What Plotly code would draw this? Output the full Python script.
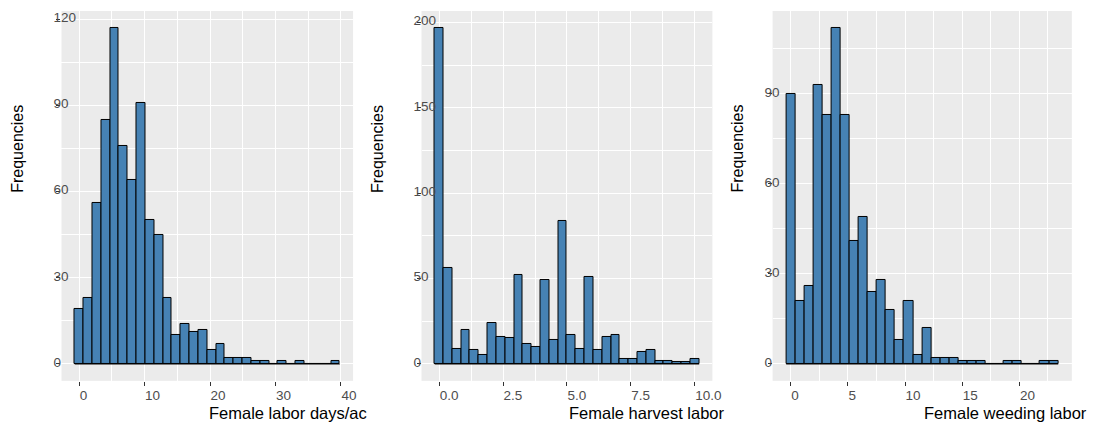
import plotly.graph_objects as go

# ---------------- data ----------------
labor_counts = [19, 23, 56, 85, 117, 76, 64, 91, 50, 45, 23, 10, 14, 11, 12,
                5, 7, 2, 2, 2, 1, 1, 0, 1, 0, 1, 0, 0, 0, 1]
labor_bin_width = 1.35
labor_first_center = 0.0

harvest_counts = [197, 56, 9, 20, 8, 5, 24, 16, 15, 52, 12, 10, 49, 14, 84,
                  17, 9, 51, 8, 16, 17, 3, 3, 7, 8, 2, 2, 1, 1, 3]
harvest_bin_width = 10 / 29
harvest_first_center = 0.0

weeding_counts = [90, 21, 26, 93, 83, 112, 83, 41, 49, 24, 28, 18, 8, 21, 3,
                  12, 2, 2, 2, 1, 1, 1, 0, 0, 1, 1, 0, 0, 1, 1]
weeding_bin_width = 23 / 29
weeding_first_center = 0.0

x_titles = ["Female labor days/ac", "Female harvest labor", "Female weeding labor"]
y_title = "Frequencies"

labor_xticks = [0, 10, 20, 30, 40]
harvest_xticks = [0.0, 2.5, 5.0, 7.5, 10.0]
weeding_xticks = [0, 5, 10, 15, 20]
labor_yticks = [0, 30, 60, 90, 120]
harvest_yticks = [0, 50, 100, 150, 200]
weeding_yticks = [0, 30, 60, 90]

# ---------------- layout geometry ----------------
W, H = 1096, 427
panels_px = [(62, 356), (425, 718.3), (779, 1080.7)]
top_px, bottom_px = 10, 380.7
ydom = [1 - bottom_px / H, 1 - top_px / H]

FONT = "Liberation Sans, Arial, sans-serif"
FILL = "#4682B4"
PANEL_BG = "#EBEBEB"
TICK_COLOR = "#4D4D4D"

specs = [
    (labor_counts, labor_bin_width, labor_first_center, labor_xticks, labor_yticks, None, 5, 15),
    (harvest_counts, harvest_bin_width, harvest_first_center, harvest_xticks, harvest_yticks, ".1f", 1.25, 25),
    (weeding_counts, weeding_bin_width, weeding_first_center, weeding_xticks, weeding_yticks, None, 2.5, 15),
]

fig = go.Figure()
layout = dict(
    width=W, height=H,
    margin=dict(l=0, r=0, t=0, b=0),
    paper_bgcolor="white",
    plot_bgcolor=PANEL_BG,
    showlegend=False,
    bargap=0,
    font=dict(family=FONT, size=13, color=TICK_COLOR),
)
annotations = []

for i, (counts, bw, c0, xt, yt, fmt, xminor, yminor) in enumerate(specs):
    n = len(counts)
    centers = [c0 + k * bw for k in range(n)]
    left_edge = centers[0] - bw / 2
    right_edge = centers[-1] + bw / 2
    span = right_edge - left_edge
    xr = [left_edge - 0.05 * span, right_edge + 0.05 * span]
    ymax = max(counts)
    yr = [-0.05 * ymax, 1.05 * ymax]

    xa = "x" if i == 0 else f"x{i+1}"
    ya = "y" if i == 0 else f"y{i+1}"
    xkey = "xaxis" if i == 0 else f"xaxis{i+1}"
    ykey = "yaxis" if i == 0 else f"yaxis{i+1}"

    fig.add_trace(go.Bar(
        x=centers, y=counts, width=[bw] * n,
        marker=dict(color=FILL, line=dict(color="black", width=1)),
        xaxis=xa, yaxis=ya, hoverinfo="x+y",
    ))
    # zero-height bins are outlined by a baseline in the reference
    fig.add_trace(go.Scatter(
        x=[left_edge, right_edge], y=[0, 0], mode="lines",
        line=dict(color="black", width=1),
        xaxis=xa, yaxis=ya, hoverinfo="skip",
    ))

    x0p, x1p = panels_px[i]
    layout[xkey] = dict(
        domain=[x0p / W, x1p / W], anchor=ya, range=xr,
        tickmode="array", tickvals=xt,
        tickformat=fmt if fmt else None,
        ticks="outside", ticklen=4, tickwidth=1, tickcolor="#333333",
        showline=False, zeroline=False,
        showgrid=True, gridcolor="white", gridwidth=1.1,
        minor=dict(dtick=xminor, tick0=0, showgrid=True, gridcolor="white", gridwidth=0.55, ticks=""),
        ticklabelposition="outside right", ticklabelstandoff=2,
        tickfont=dict(family=FONT, size=13.5, color=TICK_COLOR),
        fixedrange=True,
    )
    layout[ykey] = dict(
        domain=ydom, anchor=xa, range=yr,
        tickmode="array", tickvals=yt,
        ticks="outside", ticklen=4, tickwidth=1, tickcolor="#333333",
        showline=False, zeroline=False,
        showgrid=True, gridcolor="white", gridwidth=1.1,
        minor=dict(dtick=yminor * 2, tick0=yminor, showgrid=True, gridcolor="white", gridwidth=0.55, ticks=""),
        ticklabelposition="inside", ticklabelstandoff=-11, ticklabelshift=-2,
        ticklabeloverflow="allow",
        tickfont=dict(family=FONT, size=13.5, color=TICK_COLOR),
        fixedrange=True,
    )

    # x axis title (clipped in the reference, begins near panel centre)
    title_start = [208.3, 571.7, 930][i]
    annotations.append(dict(
        text=x_titles[i], x=title_start / W, y=1 - 413 / H,
        xref="paper", yref="paper", xanchor="left", yanchor="middle",
        showarrow=False, font=dict(family=FONT, size=16.5, color="black"),
    ))
    ytitle_x = [18.3, 380.5, 744][i]
    annotations.append(dict(
        text=y_title, x=ytitle_x / W, y=1 - 148 / H,
        xref="paper", yref="paper", xanchor="center", yanchor="middle",
        textangle=-90, showarrow=False,
        font=dict(family=FONT, size=16, color="black"),
    ))

layout["annotations"] = annotations
fig.update_layout(**layout)
fig.write_html("out.html")
